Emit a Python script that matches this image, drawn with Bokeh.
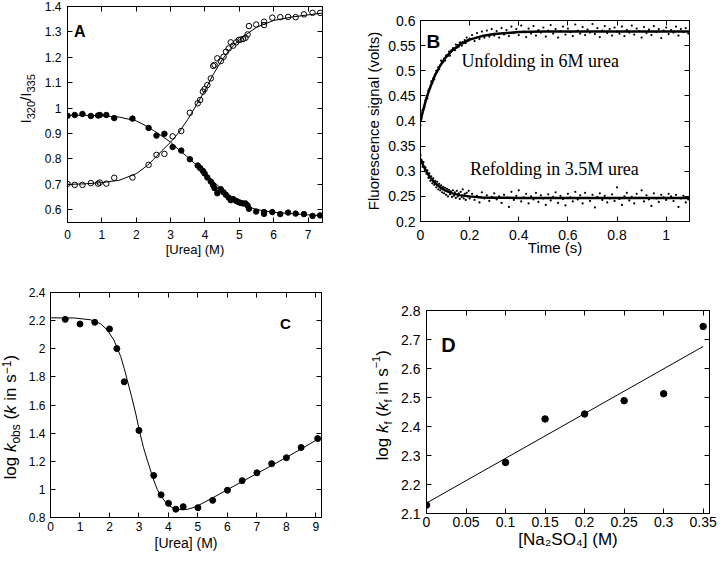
from math import pi
from bokeh.plotting import figure
from bokeh.models import (LinearAxis, Range1d, Label, FixedTicker,
                          NumeralTickFormatter, CustomLabelingPolicy)
from bokeh.layouts import column, row
from bokeh.embed import file_html
from bokeh.resources import INLINE

SANS = "Liberation Sans"
SERIF = "Liberation Serif"

# ---------------- Panel A : equilibrium denaturation ----------------
A_urea = [0, 0.21, 0.435, 0.68, 0.89, 0.94, 1.13, 1.36, 1.89,
          2.36, 2.59, 2.82, 3.06, 3.31, 3.56, 3.79, 3.86, 3.94, 3.99,
          4.07, 4.17, 4.24, 4.28, 4.36, 4.46, 4.54, 4.61, 4.69, 4.75,
          4.82, 4.91, 4.98, 5.04, 5.11, 5.18, 5.24, 5.28, 5.49, 5.72,
          5.72, 5.96, 6.19, 6.42, 6.64, 6.88, 7.13, 7.35]
A_ratio_filled = [0.970, 0.973, 0.977, 0.969, 0.971, 0.973, 0.973, 0.961, 0.959,
                  0.922, 0.892, 0.899, 0.847, 0.833, 0.799, 0.774, 0.764, 0.753, 0.743,
                  0.727, 0.711, 0.696, 0.685, 0.665, 0.681, 0.669, 0.659, 0.648, 0.638,
                  0.642, 0.635, 0.630, 0.627, 0.625, 0.625, 0.617, 0.604, 0.593, 0.591,
                  0.584, 0.591, 0.583, 0.589, 0.585, 0.583, 0.576, 0.578]
A_ratio_open = [0.702, 0.698, 0.698, 0.705, 0.703, 0.707, 0.703, 0.726, 0.727,
                0.777, 0.816, 0.820, 0.889, 0.910, 0.982, 1.019, 1.032, 1.065, 1.075,
                1.091, 1.117, 1.166, 1.170, 1.196, 1.185, 1.202, 1.222, 1.235, 1.259,
                1.246, 1.259, 1.268, 1.270, 1.272, 1.277, 1.290, 1.323, 1.329, 1.340,
                1.327, 1.356, 1.358, 1.359, 1.358, 1.369, 1.375, 1.375]
A_fit_urea = [0, 0.5, 1.0, 1.5, 2.0, 2.33, 2.5, 2.75, 3.0, 3.25, 3.5, 3.75, 4.0,
              4.25, 4.5, 4.75, 5.0, 5.25, 5.5, 6.0, 6.5, 7.0, 7.4]
A_fit_filled = [0.972, 0.972, 0.970, 0.965, 0.950, 0.927, 0.912, 0.890, 0.866, 0.835,
                0.807, 0.776, 0.745, 0.711, 0.680, 0.652, 0.630, 0.613, 0.601, 0.590,
                0.585, 0.580, 0.577]
A_fit_open = [0.700, 0.702, 0.707, 0.716, 0.742, 0.775, 0.798, 0.833, 0.866, 0.906,
              0.956, 1.012, 1.070, 1.135, 1.190, 1.235, 1.268, 1.295, 1.318, 1.345,
              1.358, 1.367, 1.374]
A_xticks = [0, 1, 2, 3, 4, 5, 6, 7]
A_xtick_labels = ["0", "1", "2", "3", "4", "5", "6", "7"]
A_yticks = [0.6, 0.7, 0.8, 0.9, 1.0, 1.1, 1.2, 1.3, 1.4]
A_ytick_labels = ["0.6", "0.7", "0.8", "0.9", "1", "1.1", "1.2", "1.3", "1.4"]

# ---------------- Panel B : stopped-flow traces ----------------
B_time = [0.000, 0.004, 0.008, 0.012, 0.016, 0.020, 0.024, 0.028, 0.032, 0.036,
          0.040, 0.044, 0.048, 0.052, 0.056, 0.060, 0.064, 0.068, 0.072, 0.076,
          0.080, 0.084, 0.088, 0.092, 0.096, 0.100, 0.104, 0.108, 0.112, 0.116,
          0.120, 0.124, 0.128, 0.132, 0.136, 0.140, 0.144, 0.148, 0.152, 0.156,
          0.160, 0.164, 0.168, 0.172, 0.176, 0.180, 0.184, 0.188, 0.192, 0.196,
          0.200,
          0.21, 0.22, 0.23, 0.24, 0.25, 0.26, 0.27, 0.28, 0.29, 0.30,
          0.31, 0.32, 0.33, 0.34, 0.35, 0.36, 0.37, 0.38, 0.39, 0.40,
          0.41, 0.42, 0.43, 0.44, 0.45, 0.46, 0.47, 0.48, 0.49, 0.50,
          0.51, 0.52, 0.53, 0.54, 0.55, 0.56, 0.57, 0.58, 0.59, 0.60,
          0.61, 0.62, 0.63, 0.64, 0.65, 0.66, 0.67, 0.68, 0.69, 0.70,
          0.71, 0.72, 0.73, 0.74, 0.75, 0.76, 0.77, 0.78, 0.79, 0.80,
          0.81, 0.82, 0.83, 0.84, 0.85, 0.86, 0.87, 0.88, 0.89, 0.90,
          0.91, 0.92, 0.93, 0.94, 0.95, 0.96, 0.97, 0.98, 0.99, 1.00,
          1.01, 1.02, 1.03, 1.04, 1.05, 1.06, 1.07, 1.08, 1.09]
B_unfold = [0.392, 0.405, 0.421, 0.423, 0.427, 0.441, 0.446, 0.445, 0.461, 0.463,
            0.466, 0.479, 0.475, 0.485, 0.483, 0.493, 0.500, 0.498, 0.507, 0.503,
            0.510, 0.520, 0.516, 0.517, 0.524, 0.520, 0.530, 0.531, 0.530, 0.538,
            0.530, 0.540, 0.540, 0.545, 0.543, 0.541, 0.552, 0.546, 0.551, 0.548,
            0.556, 0.556, 0.550, 0.557, 0.555, 0.561, 0.555, 0.566, 0.561, 0.560,
            0.564,
            0.571, 0.559, 0.575, 0.563, 0.578, 0.566, 0.580, 0.568, 0.583, 0.570,
            0.579, 0.566, 0.585, 0.572, 0.581, 0.569, 0.588, 0.575, 0.583, 0.571,
            0.590, 0.578, 0.567, 0.584, 0.574, 0.589, 0.570, 0.581, 0.576, 0.586,
            0.568, 0.580, 0.591, 0.574, 0.583, 0.566, 0.579, 0.588, 0.572, 0.584,
            0.577, 0.569, 0.592, 0.580, 0.574, 0.587, 0.571, 0.582, 0.576, 0.593,
            0.573, 0.585, 0.567, 0.580, 0.589, 0.575, 0.583, 0.570, 0.586, 0.578,
            0.574, 0.588, 0.569, 0.581, 0.576, 0.590, 0.572, 0.584, 0.579, 0.566,
            0.587, 0.575, 0.582, 0.571, 0.589, 0.577, 0.583, 0.565, 0.580, 0.586,
            0.573, 0.581, 0.576, 0.588, 0.570, 0.583, 0.577, 0.585, 0.574]
B_refold = [0.332, 0.322, 0.309, 0.318, 0.300, 0.308, 0.295, 0.302, 0.287, 0.296,
            0.281, 0.290, 0.276, 0.286, 0.273, 0.281, 0.268, 0.279, 0.264, 0.275,
            0.262, 0.272, 0.258, 0.269, 0.256, 0.267, 0.253, 0.265, 0.250, 0.263,
            0.254, 0.260, 0.249, 0.262, 0.251, 0.258, 0.247, 0.261, 0.250, 0.256,
            0.245, 0.259, 0.249, 0.264, 0.246, 0.255, 0.243, 0.257, 0.250, 0.261,
            0.246,
            0.255, 0.243, 0.251, 0.238, 0.258, 0.246, 0.252, 0.241, 0.249, 0.256,
            0.244, 0.250, 0.237, 0.253, 0.247, 0.229, 0.259, 0.243, 0.251, 0.262,
            0.240, 0.248, 0.255, 0.236, 0.250, 0.244, 0.257, 0.239, 0.252, 0.246,
            0.233, 0.254, 0.242, 0.249, 0.258, 0.237, 0.251, 0.245, 0.232, 0.255,
            0.248, 0.240, 0.259, 0.244, 0.252, 0.236, 0.257, 0.247, 0.241, 0.253,
            0.228, 0.249, 0.256, 0.243, 0.251, 0.238, 0.246, 0.254, 0.241, 0.268,
            0.245, 0.233, 0.250, 0.257, 0.242, 0.249, 0.236, 0.255, 0.247, 0.262,
            0.240, 0.252, 0.244, 0.231, 0.256, 0.246, 0.239, 0.253, 0.248, 0.243,
            0.255, 0.250, 0.241, 0.253, 0.229, 0.246, 0.251, 0.238, 0.244]
B_fit_time = [0, 0.01, 0.02, 0.03, 0.04, 0.06, 0.08, 0.10, 0.13, 0.16, 0.20,
              0.25, 0.30, 0.40, 0.50, 0.70, 1.095]
B_fit_unfold = [0.400, 0.420, 0.438, 0.454, 0.468, 0.492, 0.510, 0.525, 0.541, 0.552,
                0.562, 0.569, 0.573, 0.577, 0.578, 0.578, 0.578]
B_fit_refold = [0.325, 0.313, 0.303, 0.295, 0.287, 0.276, 0.268, 0.262, 0.256, 0.2525,
                0.250, 0.248, 0.2475, 0.247, 0.247, 0.247, 0.247]
B_xticks = [0, 0.2, 0.4, 0.6, 0.8, 1.0]
B_xtick_labels = ["0", "0.2", "0.4", "0.6", "0.8", "1"]
B_yticks = [0.2, 0.25, 0.3, 0.35, 0.4, 0.45, 0.5, 0.55, 0.6]
B_ytick_labels = ["0.2", "0.25", "0.3", "0.35", "0.4", "0.45", "0.5", "0.55", "0.6"]

# ---------------- Panel C : chevron plot ----------------
C_urea = [0.5, 1.0, 1.5, 2.0, 2.25, 2.5, 3.0, 3.5, 3.75, 4.0, 4.25, 4.5,
          5.0, 5.5, 6.0, 6.5, 7.0, 7.5, 8.0, 8.5, 9.06]
C_logk = [2.209, 2.176, 2.188, 2.141, 2.001, 1.765, 1.419, 1.099, 0.961, 0.901,
          0.859, 0.877, 0.870, 0.922, 0.994, 1.062, 1.118, 1.183, 1.225, 1.298, 1.361]
C_fit_urea = [0, 0.8, 1.36, 1.7, 1.93, 2.15, 2.38, 2.5, 2.6, 2.75, 2.9, 3.0, 3.15,
              3.28, 3.4, 3.51, 3.62, 3.74, 3.88, 4.02, 4.15, 4.3, 4.5, 4.64, 4.8,
              4.98, 5.5, 6.0, 7.02, 8.04, 9.14]
C_fit_logk = [2.220, 2.219, 2.206, 2.178, 2.132, 2.062, 1.945, 1.860, 1.780, 1.660,
              1.530, 1.430, 1.300, 1.210, 1.130, 1.060, 1.000, 0.955, 0.915, 0.885,
              0.868, 0.858, 0.855, 0.858, 0.868, 0.882, 0.940, 0.998, 1.115, 1.232, 1.366]
C_xticks = [0, 1, 2, 3, 4, 5, 6, 7, 8, 9]
C_xtick_labels = ["0", "1", "2", "3", "4", "5", "6", "7", "8", "9"]
C_yticks = [0.8, 1.0, 1.2, 1.4, 1.6, 1.8, 2.0, 2.2, 2.4]
C_ytick_labels = ["0.8", "1", "1.2", "1.4", "1.6", "1.8", "2", "2.2", "2.4"]

# ---------------- Panel D : salt dependence ----------------
D_na2so4 = [0, 0.1, 0.15, 0.2, 0.25, 0.3, 0.35]
D_logkf = [2.129, 2.276, 2.426, 2.443, 2.489, 2.513, 2.745]
D_fit_x = [0, 0.35]
D_fit_y = [2.136, 2.676]
D_xticks = [0, 0.05, 0.1, 0.15, 0.2, 0.25, 0.3, 0.35]
D_xtick_labels = ["0", "0.05", "0.1", "0.15", "0.2", "0.25", "0.3", "0.35"]
D_yticks = [2.1, 2.2, 2.3, 2.4, 2.5, 2.6, 2.7, 2.8]
D_ytick_labels = ["2.1", "2.2", "2.3", "2.4", "2.5", "2.6", "2.7", "2.8"]

# ---------------- helpers ----------------
HIDE = CustomLabelingPolicy(code="for (const i of indices) { indices.unset(i) }\nreturn indices")


def make_fig(w, h, xr, yr, left, right, top, bottom):
    p = figure(width=w, height=h, x_range=Range1d(*xr), y_range=Range1d(*yr),
               output_backend="svg", toolbar_location=None,
               x_axis_location=None, y_axis_location=None,
               min_border_left=left, min_border_right=right,
               min_border_top=top, min_border_bottom=bottom,
               background_fill_color="white", border_fill_color="white")
    p.grid.visible = False
    p.outline_line_color = "black"
    p.outline_line_width = 1
    p.outline_line_alpha = 1
    return p


def style_axis(ax, fs):
    ax.axis_line_color = "black"
    ax.axis_line_width = 1
    ax.major_tick_line_color = "black"
    ax.major_tick_in = 5
    ax.major_tick_out = 0
    ax.minor_tick_in = 0
    ax.minor_tick_out = 0
    ax.major_label_text_font = SANS
    ax.major_label_text_font_size = fs
    ax.major_label_text_color = "black"
    ax.axis_label_text_font = SANS
    ax.axis_label_text_font_style = "normal"
    ax.axis_label_text_color = "black"


def add_axes(p, xticks, xlabels, yticks, ylabels, tick_fs, xtitle, title_fs,
             xstand, xtstand, ystand, ytitle=None, ytstand=3):
    bx = LinearAxis(ticker=FixedTicker(ticks=xticks),
                    major_label_overrides=dict(zip(xticks, xlabels)),
                    formatter=NumeralTickFormatter(format="0.[00]"),
                    axis_label=xtitle)
    style_axis(bx, tick_fs)
    bx.major_label_standoff = xstand
    bx.axis_label_standoff = xtstand
    bx.axis_label_text_font_size = title_fs
    p.add_layout(bx, "below")
    ly = LinearAxis(ticker=FixedTicker(ticks=yticks),
                    major_label_overrides=dict(zip(yticks, ylabels)),
                    formatter=NumeralTickFormatter(format="0.[00]"),
                    axis_label=ytitle)
    style_axis(ly, tick_fs)
    ly.major_label_standoff = ystand
    ly.axis_label_standoff = ytstand
    ly.axis_label_text_font_size = title_fs
    p.add_layout(ly, "left")
    for loc, ticks in (("above", xticks), ("right", yticks)):
        ax = LinearAxis(ticker=FixedTicker(ticks=ticks), major_label_policy=HIDE)
        style_axis(ax, "0px")
        ax.major_label_standoff = 0
        p.add_layout(ax, loc)


def title_fig(w, h, base_x, start_y, pieces):
    """A narrow strip holding a rotated, mixed-style axis title."""
    t = figure(width=w, height=h, x_range=Range1d(0, w), y_range=Range1d(0, h),
               output_backend="svg", toolbar_location=None,
               x_axis_location=None, y_axis_location=None,
               min_border_left=0, min_border_right=0,
               min_border_top=0, min_border_bottom=0,
               background_fill_color="white", border_fill_color="white")
    t.grid.visible = False
    t.outline_line_color = None
    for text, size, style, along, across in pieces:
        t.add_layout(Label(x=base_x + across, y=start_y + along, text=text,
                           angle=pi / 2, text_font=SANS,
                           text_font_size=f"{size}px", text_font_style=style,
                           text_align="left", text_baseline="alphabetic",
                           text_color="black"))
    return t


def panel_letter(p, x, y, letter, size):
    p.add_layout(Label(x=x, y=y, text=letter, text_font=SANS, text_font_size=size,
                       text_font_style="bold", text_color="black",
                       text_align="left", text_baseline="alphabetic"))


TOP_H, BOT_H = 283, 270

# ---------------- Panel A ----------------
A_xr, A_yr = (0, 7.42), (0.55, 1.4)
pA = make_fig(320, TOP_H, A_xr, A_yr, 27, 38, 6, 61)
add_axes(pA, A_xticks, A_xtick_labels, A_yticks, A_ytick_labels, "12px",
         "[Urea] (M)", "13px", 7, 0, 6)
pA.line(A_fit_urea, A_fit_filled, line_color="black", line_width=1)
pA.line(A_fit_urea, A_fit_open, line_color="black", line_width=1)
pA.scatter(A_urea, A_ratio_filled, marker="circle", size=5.5,
           fill_color="black", line_color="black")
pA.scatter(A_urea, A_ratio_open, marker="circle", size=5.5,
           fill_alpha=0, line_color="black", line_width=1)
panel_letter(pA, 0.19, 1.30, "A", "16px")
tA = title_fig(40, TOP_H, 24.8, 160, [
    ("I", 15, "normal", 0, 0), ("320", 11, "normal", 4.2, 6),
    ("/", 15, "normal", 22.5, 0), ("I", 15, "normal", 26.7, 0),
    ("335", 11, "normal", 30.9, 6)])

# ---------------- Panel B ----------------
B_xr, B_yr = (0, 1.095), (0.2, 0.6)
pB = make_fig(358, TOP_H, B_xr, B_yr, 60, 29, 20, 62)
add_axes(pB, B_xticks, B_xtick_labels, B_yticks, B_ytick_labels, "14px",
         "Time (s)", "15px", 8, -4, 5, ytitle="Fluorescence signal (volts)", ytstand=3)
pB.scatter(B_time, B_unfold, marker="circle", size=2.2, fill_color="black", line_color=None)
pB.scatter(B_time, B_refold, marker="circle", size=2.2, fill_color="black", line_color=None)
pB.line(B_fit_time, B_fit_unfold, line_color="black", line_width=2.5)
pB.line(B_fit_time, B_fit_refold, line_color="black", line_width=2.5)
pB.add_layout(Label(x=0.167, y=0.50, text="Unfolding in 6M urea", text_font=SERIF,
                    text_font_size="18px", text_color="black"))
pB.add_layout(Label(x=0.201, y=0.285, text="Refolding in 3.5M urea", text_font=SERIF,
                    text_font_size="18px", text_color="black"))
panel_letter(pB, 0.024, 0.558, "B", "19px")

# ---------------- Panel C ----------------
C_xr, C_yr = (0, 9.19), (0.8, 2.4)
pC = make_fig(336, BOT_H, C_xr, C_yr, 26, 39, 9, 36)
add_axes(pC, C_xticks, C_xtick_labels, C_yticks, C_ytick_labels, "12px",
         "[Urea] (M)", "14px", 4, 1, 5)
pC.line(C_fit_urea, C_fit_logk, line_color="black", line_width=1)
pC.scatter(C_urea, C_logk, marker="circle", size=6, fill_color="black", line_color="black")
panel_letter(pC, 7.78, 2.178, "C", "15px")
tC = title_fig(24, BOT_H, 9.5, 74, [
    ("log", 17, "normal", 0, 0), ("k", 17, "italic", 27.4, 0),
    ("obs", 12, "normal", 35.9, 6), ("(", 17, "normal", 59.9, 0),
    ("k", 17, "italic", 65.6, 0), ("in s", 17, "normal", 78.8, 0),
    ("\u22121", 12, "normal", 105.3, -4), (")", 17, "normal", 119.0, 0)])

# ---------------- Panel D ----------------
D_xr, D_yr = (0, 0.358), (2.1, 2.8)
pD = make_fig(320, BOT_H, D_xr, D_yr, 28, 9, 27, 40)
add_axes(pD, D_xticks, D_xtick_labels, D_yticks, D_ytick_labels, "14px",
         "[Na\u2082SO\u2084] (M)", "17px", 3, 0, 6)
pD.line(D_fit_x, D_fit_y, line_color="black", line_width=1)
pD.scatter(D_na2so4, D_logkf, marker="circle", size=6.5, fill_color="black", line_color="black")
panel_letter(pD, 0.0187, 2.682, "D", "20px")
tD = title_fig(38, BOT_H, 21.5, 93, [
    ("log", 17, "normal", 0, 0), ("k", 17, "italic", 27.4, 0),
    ("f", 11, "normal", 35.9, 6), ("(", 17, "normal", 43.7, 0),
    ("k", 17, "italic", 49.4, 0), ("f", 11, "normal", 57.9, 6),
    ("in s", 17, "normal", 65.7, 0), ("\u22121", 11, "normal", 92.2, -6),
    (")", 17, "normal", 104.7, 0)])

layout = column(
    row(column(tA), column(pA), column(pB)),
    row(column(tC), column(pC), column(tD), column(pD)),
)
open("out.html", "w").write(file_html(layout, INLINE))
